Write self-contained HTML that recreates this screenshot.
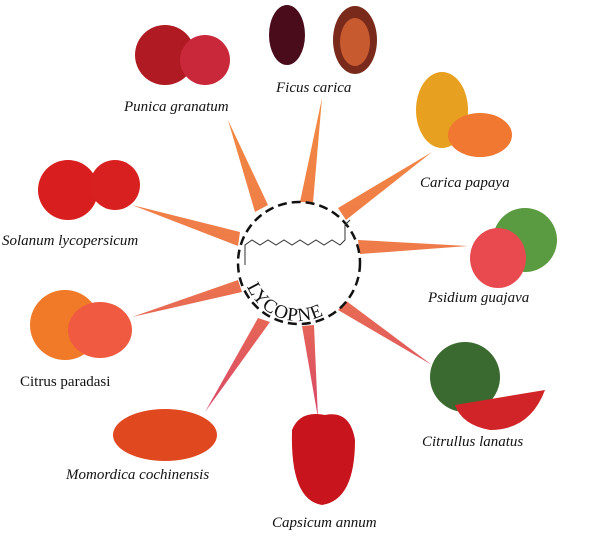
<!DOCTYPE html>
<html><head><style>
body{margin:0;background:#fff;}
svg text{font-family:"Liberation Serif",serif;font-style:italic;font-size:15px;fill:#111;}
</style></head><body>
<svg width="600" height="534" viewBox="0 0 600 534" xmlns="http://www.w3.org/2000/svg">
<defs>
<linearGradient id="g" gradientUnits="userSpaceOnUse" x1="0" y1="100" x2="0" y2="420"><stop offset="0" stop-color="#f28a40"/><stop offset="0.5" stop-color="#ee7a4a"/><stop offset="1" stop-color="#d8466a"/></linearGradient>
<path id="arc" d="M245,281 A56,56 0 0 0 352,282"/>
</defs>
<g fill="url(#g)">
<polygon points="255,212 268,205 228,120"/>
<polygon points="300,202 313,203 322,98"/>
<polygon points="338,208 346,220 432,152"/>
<polygon points="358,240 360,254 468,246"/>
<polygon points="345,300 338,310 432,365"/>
<polygon points="302,326 314,325 318,418"/>
<polygon points="258,318 270,322 205,412"/>
<polygon points="238,280 242,292 132,317"/>
<polygon points="240,232 238,246 132,205"/>
</g>
<circle cx="299" cy="263" r="61" fill="#fff" stroke="#111" stroke-width="2.5" stroke-dasharray="9,5"/>
<polyline points="245,265 245,245 252,240 260,245 268,240 276,245 284,240 292,245 300,240 308,245 316,240 324,245 332,240 340,245 345,240 345,225 350,220" fill="none" stroke="#333" stroke-width="1"/>
<text style="font-style:normal;font-size:19px;letter-spacing:1px"><textPath href="#arc" startOffset="4%">LYCOPNE</textPath></text>
<!-- fruits -->
<circle cx="165" cy="55" r="30" fill="#b01a22"/><circle cx="205" cy="60" r="25" fill="#c8283a"/>
<ellipse cx="287" cy="35" rx="18" ry="30" fill="#4a0c1a"/><ellipse cx="355" cy="40" rx="22" ry="34" fill="#7a2a1a"/><ellipse cx="355" cy="42" rx="15" ry="24" fill="#c85a30"/>
<ellipse cx="442" cy="110" rx="26" ry="38" fill="#e8a020"/><ellipse cx="480" cy="135" rx="32" ry="22" fill="#f07830"/>
<circle cx="525" cy="240" r="32" fill="#5a9a40"/><ellipse cx="498" cy="258" rx="28" ry="30" fill="#e84a50"/>
<circle cx="465" cy="377" r="35" fill="#3a6a30"/><path d="M455,405 L545,390 Q530,430 490,430 Q462,425 455,405Z" fill="#d02428"/>
<path d="M292,430 Q300,410 325,415 Q350,410 355,440 Q355,500 322,505 Q290,500 292,430Z" fill="#c8141c"/>
<ellipse cx="165" cy="435" rx="52" ry="26" fill="#e04820"/>
<circle cx="65" cy="325" r="35" fill="#f07a28"/><ellipse cx="100" cy="330" rx="32" ry="28" fill="#f05a40"/>
<circle cx="68" cy="190" r="30" fill="#d81e1e"/><circle cx="115" cy="185" r="25" fill="#d82020"/>
<!-- labels -->
<text x="124" y="111">Punica granatum</text>
<text x="276" y="92">Ficus carica</text>
<text x="420" y="187">Carica papaya</text>
<text x="428" y="302">Psidium guajava</text>
<text x="422" y="446">Citrullus lanatus</text>
<text x="272" y="527">Capsicum annum</text>
<text x="66" y="479">Momordica cochinensis</text>
<text x="20" y="386" style="font-style:normal">Citrus paradasi</text>
<text x="2" y="245">Solanum lycopersicum</text>
</svg>
</body></html>
